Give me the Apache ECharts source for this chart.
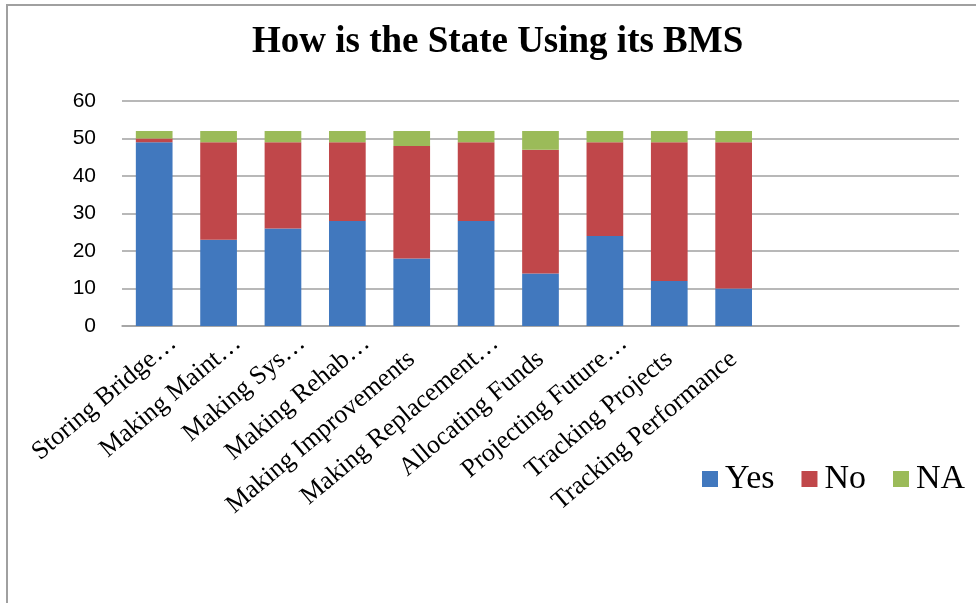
<!DOCTYPE html>
<html>
<head>
<meta charset="utf-8">
<script src="https://cdn.jsdelivr.net/npm/echarts@6/dist/echarts.min.js"></script>
<style>
  html, body { margin: 0; padding: 0; background: #fff; }
  #bmsUse { width: 976px; height: 603px; }
</style>
</head>
<body>
<div id="bmsUse"></div>
<script>
// three empty slots at the end, the plot keeps room for them
const categories = [
  'Storing Bridge…', 'Making Maint…', 'Making Sys…', 'Making Rehab…',
  'Making Improvements', 'Making Replacement…', 'Allocating Funds',
  'Projecting Future…', 'Tracking Projects', 'Tracking Performance',
  '', '', ''
]
const yesValues = [49, 23, 26, 28, 18, 28, 14, 24, 12, 10]
const noValues = [1, 26, 23, 21, 30, 21, 33, 25, 37, 39]
const naValues = [2, 3, 3, 3, 4, 3, 5, 3, 3, 3]
const yTicks = [0, 10, 20, 30, 40, 50, 60]

const chart = echarts.init(document.getElementById('bmsUse'), null, { renderer: 'canvas' })

const serif = '"Liberation Serif", "DejaVu Serif", serif'

function barSeries(name, data, color) {
  return {
    name: name,
    type: 'bar',
    stack: 'total',
    data: data,
    barWidth: '57%',
    itemStyle: { color: color },
    emphasis: { disabled: true }
  }
}

// excel pushes the cut-off labels a bit further along the slant
const xData = categories.map(function(c) {
  if (c.endsWith('…')) {
    return { value: c, textStyle: { padding: [0, -25, 0, 0] } }
  }
  return c
})

const option = {
  animation: false,
  backgroundColor: '#fff',
  title: {
    text: 'How is the State Using its BMS',
    left: 252,
    top: 24,
    padding: 0,
    textStyle: {
      fontFamily: serif,
      fontWeight: 'bold',
      fontSize: 37,
      color: '#000'
    }
  },
  legend: {
    data: ['Yes', 'No', 'NA'],
    left: 702,
    top: 462,
    padding: 0,
    itemWidth: 16,
    itemHeight: 16,
    itemGap: 27,
    icon: 'rect',
    textStyle: {
      fontFamily: serif,
      fontSize: 34,
      color: '#000',
      padding: [0, 0, 0, 2]
    }
  },
  grid: {
    left: 122,
    right: 17,
    top: 101,
    bottom: 277,
    containLabel: false
  },
  xAxis: {
    type: 'category',
    data: xData,
    axisLine: { lineStyle: { color: '#a0a0a0', width: 1.5 } },
    axisTick: { show: false },
    axisLabel: {
      rotate: 40,
      interval: 0,
      margin: 30,
      fontFamily: serif,
      fontSize: 26,
      color: '#000'
    }
  },
  yAxis: {
    type: 'value',
    min: yTicks[0],
    max: yTicks[yTicks.length - 1],
    interval: 10,
    axisLine: { show: false },
    axisTick: { show: false },
    splitLine: { lineStyle: { color: '#a0a0a0', width: 1.5 } },
    axisLabel: {
      margin: 26,
      fontFamily: '"Liberation Sans", "DejaVu Sans", sans-serif',
      fontSize: 21,
      color: '#000'
    }
  },
  graphic: [{
    type: 'rect',
    shape: { x: 7, y: 5, width: 1000, height: 700 },
    style: { fill: 'none', stroke: '#a0a0a0', lineWidth: 2 },
    silent: true
  }],
  series: [
    barSeries('Yes', yesValues, '#4178BE'),
    barSeries('No', noValues, '#C0474A'),
    barSeries('NA', naValues, '#9BBB59')
  ]
}

chart.setOption(option)
</script>
</body>
</html>
